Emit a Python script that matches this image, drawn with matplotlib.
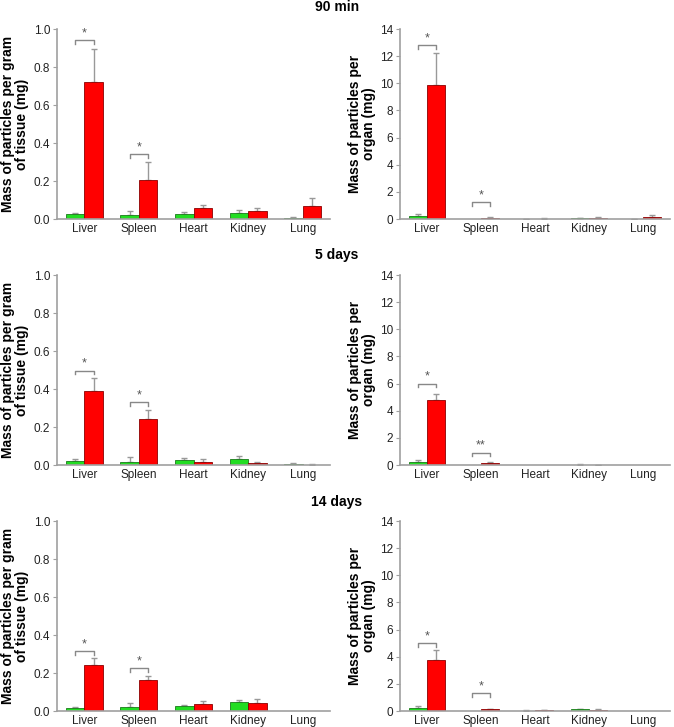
import matplotlib
matplotlib.use("Agg")
import matplotlib.pyplot as plt
import numpy as np

plt.rcParams['font.family'] = ['Liberation Sans', 'DejaVu Sans']

organs = ["Liver", "Spleen", "Heart", "Kidney", "Lung"]
titles = ["90 min", "5 days", "14 days"]

# per gram of tissue (mg): green, green err top, red, red err top
g_tissue = [
    [0.025, 0.020, 0.025, 0.033, 0.005],
    [0.020, 0.018, 0.025, 0.030, 0.005],
    [0.015, 0.020, 0.028, 0.045, 0.000],
]
g_tissue_top = [
    [0.033, 0.040, 0.035, 0.048, 0.012],
    [0.030, 0.042, 0.035, 0.050, 0.012],
    [0.022, 0.042, 0.030, 0.058, 0.000],
]
r_tissue = [
    [0.720, 0.205, 0.058, 0.040, 0.068],
    [0.390, 0.243, 0.015, 0.010, 0.002],
    [0.243, 0.165, 0.035, 0.040, 0.000],
]
r_tissue_top = [
    [0.895, 0.300, 0.075, 0.060, 0.112],
    [0.460, 0.290, 0.030, 0.015, 0.003],
    [0.280, 0.185, 0.055, 0.062, 0.000],
]

# per organ (mg)
g_organ = [
    [0.20, 0.00, 0.02, 0.05, 0.02],
    [0.20, 0.02, 0.01, 0.03, 0.00],
    [0.22, 0.00, 0.03, 0.12, 0.00],
]
g_organ_top = [
    [0.35, 0.00, 0.03, 0.10, 0.03],
    [0.40, 0.02, 0.01, 0.05, 0.00],
    [0.35, 0.00, 0.04, 0.15, 0.00],
]
r_organ = [
    [9.90, 0.10, 0.03, 0.08, 0.15],
    [4.80, 0.17, 0.01, 0.01, 0.00],
    [3.75, 0.12, 0.04, 0.10, 0.00],
]
r_organ_top = [
    [12.2, 0.15, 0.05, 0.12, 0.28],
    [5.25, 0.20, 0.01, 0.02, 0.00],
    [4.50, 0.18, 0.05, 0.12, 0.00],
]

# significance brackets: (category index, bracket height, label)
sig_tissue = [
    [(0, 0.942, "*"), (1, 0.34, "*")],
    [(0, 0.497, "*"), (1, 0.33, "*")],
    [(0, 0.314, "*"), (1, 0.225, "*")],
]
sig_organ = [
    [(0, 12.8, "*"), (1, 1.23, "*")],
    [(0, 6.0, "*"), (1, 0.91, "**")],
    [(0, 4.98, "*"), (1, 1.30, "*")],
]

GREEN = "#22dd22"
GREEN_EDGE = "#1a7a1a"
RED = "#ff0000"
RED_EDGE = "#8b0000"
AXC = "#a0a0a0"

fig = plt.figure(figsize=(6.74, 7.27), dpi=100)
W, H = 674, 727
lefts = [57, 400]
widths = [273, 270]
tops = [29, 275, 521]
ah = 190
title_y = [7, 255, 502]

bw = 0.34
x = np.arange(len(organs))

def draw(ax, g, gt, r, rt, sigs, ymax, yticks, yfmt, ylabel):
    ax.bar(x - bw / 2, g, bw, color=GREEN, edgecolor=GREEN_EDGE, linewidth=0.6, zorder=2)
    ax.bar(x + bw / 2, r, bw, color=RED, edgecolor=RED_EDGE, linewidth=0.6, zorder=2)
    g = np.array(g); gt = np.array(gt); r = np.array(r); rt = np.array(rt)
    for xs, v, t in [(x - bw / 2, g, gt), (x + bw / 2, r, rt)]:
        m = t > v
        err = np.vstack([np.zeros(m.sum()), (t - v)[m]])
        ax.errorbar(xs[m], v[m], yerr=err, fmt="none", ecolor="#999999",
                    elinewidth=1.0, capsize=2.5, capthick=1.0, zorder=1)
    for ci, h, lab in sigs:
        leg = 0.02 * ymax
        x0, x1 = ci - bw / 2, ci + bw / 2
        ax.plot([x0, x0, x1, x1], [h - leg, h, h, h - leg], color="#888888", lw=1.0,
                clip_on=False)
        ax.text(ci, h + 0.005 * ymax, lab, ha="center", va="bottom", fontsize=9,
                color="#555555")
    ax.set_xlim(-0.5, 4.5)
    ax.set_ylim(0, ymax)
    ax.set_yticks(yticks)
    ax.set_yticklabels([yfmt.format(v) for v in yticks])
    ax.set_xticks(x)
    ax.set_xticklabels(organs)
    for s in ["top", "right"]:
        ax.spines[s].set_visible(False)
    for s in ["left", "bottom"]:
        ax.spines[s].set_color(AXC)
        ax.spines[s].set_linewidth(1.2)
    ax.tick_params(axis="y", direction="out", length=3, color=AXC, labelsize=8.5,
                   labelcolor="#222222", pad=2)
    ax.tick_params(axis="x", length=0, labelsize=8.5, labelcolor="#222222", pad=3)
    ax.set_ylabel(ylabel, fontsize=10, fontweight="bold", linespacing=1.0, labelpad=3)

for row in range(3):
    b = 1 - (tops[row] + ah) / H
    ax1 = fig.add_axes([lefts[0] / W, b, widths[0] / W, ah / H])
    draw(ax1, g_tissue[row], g_tissue_top[row], r_tissue[row], r_tissue_top[row],
         sig_tissue[row], 1.0, [0, 0.2, 0.4, 0.6, 0.8, 1.0], "{:.1f}",
         "Mass of particles per gram\nof tissue (mg)")
    ax2 = fig.add_axes([lefts[1] / W, b, widths[1] / W, ah / H])
    draw(ax2, g_organ[row], g_organ_top[row], r_organ[row], r_organ_top[row],
         sig_organ[row], 14, [0, 2, 4, 6, 8, 10, 12, 14], "{:d}",
         "Mass of particles per\norgan (mg)")
    fig.text(337 / W, 1 - title_y[row] / H, titles[row], ha="center", va="center",
             fontsize=10, fontweight="bold")

fig.savefig("out.png", dpi=100)
